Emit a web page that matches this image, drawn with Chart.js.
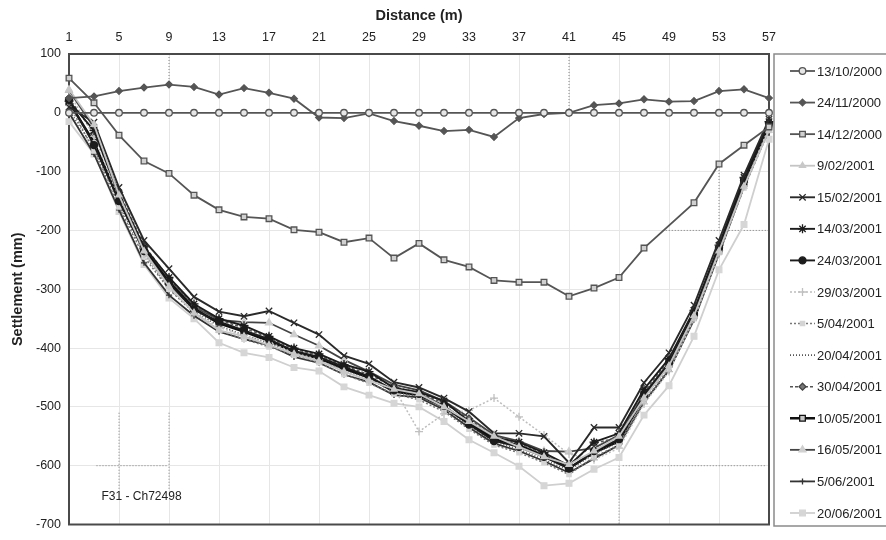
<!DOCTYPE html>
<html>
<head>
<meta charset="utf-8">
<script src="https://cdn.jsdelivr.net/npm/chart.js@4.4.0/dist/chart.umd.min.js"></script>
<style>
  html, body { margin: 0; padding: 0; background: #fff; }
  #wrap { width: 886px; height: 540px; }
</style>
</head>
<body>
<div id="wrap"><canvas id="grafico" width="886" height="540"></canvas></div>
<script>
// Distancias (m) de cada punto de lectura
const distancias = [1, 3, 5, 7, 9, 11, 13, 15, 17, 19, 21, 23, 25, 27, 29, 31, 33, 35, 37, 39, 41, 43, 45, 47, 49, 51, 53, 55, 57];

// Asientos (mm) por fecha de lectura
const s_13_10_2000 = [0, 0, 0, 0, 0, 0, 0, 0, 0, 0, 0, 0, 0, 0, 0, 0, 0, 0, 0, 0, 0, 0, 0, 0, 0, 0, 0, 0, 0];
const s_24_11_2000 = [25, 28, 37, 43, 48, 44, 31, 42, 34, 24, -8, -9, -1, -14, -22, -31, -29, -41, -9, -2, 0, 13, 16, 23, 19, 20, 37, 40, 25];
const s_14_12_2000 = [59, 17, -38, -82, -103, -140, -165, -177, -180, -199, -203, -220, -213, -247, -222, -250, -262, -285, -288, -288, -312, -298, -280, -230, null, -153, -87, -55, -24];
const s_09_02_2001 = [40, -20, -140, -235, -295, -340, -370, -380, -395, -410, -422, -440, -455, -470, -478, -500, -525, -550, -568, -585, -598, -575, -550, -485, -430, -345, -235, -125, -30];
const s_15_02_2001 = [10, -16, -127, -217, -265, -313, -338, -346, -337, -357, -377, -413, -427, -458, -467, -485, -508, -545, -545, -550, -595, -535, -535, -459, -408, -327, -217, -106, -11];
const s_14_03_2001 = [20, -30, -140, -228, -280, -325, -350, -362, -380, -400, -410, -428, -440, -468, -475, -490, -525, -552, -560, -578, -600, -560, -545, -470, -418, -336, -225, -110, -15];
const s_24_03_2001 = [22, -55, -150, -235, -290, -335, -355, -370, -385, -405, -415, -432, -448, -472, -478, -498, -530, -558, -568, -585, -605, -575, -555, -480, -425, -342, -230, -115, -18];
const s_29_03_2001 = [35, -40, -145, -240, -295, -340, -365, -378, -390, -408, -420, -440, -455, -468, -542, -512, -506, -485, -517, -548, -580, -590, -570, -495, -440, -350, -240, -125, -25];
const s_05_04_2001 = [15, -65, -160, -245, -300, -340, -370, -385, -398, -412, -425, -445, -460, -478, -488, -508, -538, -565, -578, -595, -615, -585, -565, -490, -435, -350, -238, -128, -30];
const s_20_04_2001 = [5, -60, -155, -240, -298, -338, -362, -378, -392, -410, -420, -438, -452, -475, -482, -502, -533, -560, -572, -590, -608, -580, -560, -485, -430, -345, -235, -120, -22];
const s_30_04_2001 = [25, -35, -135, -225, -282, -328, -352, -366, -382, -402, -412, -430, -445, -466, -476, -494, -520, -550, -562, -580, -600, -562, -552, -475, -420, -338, -228, -112, -16];
const s_10_05_2001 = [18, -50, -148, -232, -288, -333, -358, -372, -388, -406, -418, -435, -450, -474, -480, -500, -528, -555, -565, -583, -604, -578, -558, -482, -428, -344, -232, -118, -20];
const s_16_05_2001 = [38, -25, -138, -230, -285, -330, -352, -356, -357, -377, -396, -420, -440, -462, -472, -490, -518, -548, -558, -575, -576, -570, -548, -478, -425, -340, -230, -115, -20];
const s_05_06_2001 = [0, -70, -165, -255, -310, -345, -372, -385, -395, -415, -425, -445, -458, -480, -484, -505, -535, -562, -575, -592, -612, -588, -565, -492, -438, -352, -240, -125, -28];
const s_20_06_2001 = [-15, -70, -168, -258, -315, -350, -391, -408, -416, -433, -439, -466, -480, -494, -500, -525, -556, -578, -601, -634, -630, -606, -586, -514, -464, -380, -267, -190, -45];

const fechas = ['13/10/2000', '24/11/2000', '14/12/2000', '9/02/2001', '15/02/2001', '14/03/2001', '24/03/2001',
  '29/03/2001', '5/04/2001', '20/04/2001', '30/04/2001', '10/05/2001', '16/05/2001', '5/06/2001', '20/06/2001'];
const series = [s_13_10_2000, s_24_11_2000, s_14_12_2000, s_09_02_2001, s_15_02_2001, s_14_03_2001, s_24_03_2001,
  s_29_03_2001, s_05_04_2001, s_20_04_2001, s_30_04_2001, s_10_05_2001, s_16_05_2001, s_05_06_2001, s_20_06_2001];

// Estilo de cada serie (linea + marcador)
const estilos = [
  { color: '#555', dash: [], ancho: 1.8, marca: 'circle', radio: 3.3, relleno: '#e6e6e6', borde: '#555' },
  { color: '#555', dash: [], ancho: 1.8, marca: 'rectRot', radio: 3.3, relleno: '#555', borde: '#555' },
  { color: '#555', dash: [], ancho: 1.8, marca: 'rect', radio: 4, relleno: '#d0d0d0', borde: '#555' },
  { color: '#c4c4c4', dash: [], ancho: 1.8, marca: 'triangle', radio: 3.5, relleno: '#c8c8c8', borde: '#c8c8c8' },
  { color: '#2a2a2a', dash: [], ancho: 1.9, marca: 'crossRot', radio: 4.5, relleno: '#2a2a2a', borde: '#2a2a2a' },
  { color: '#1c1c1c', dash: [], ancho: 1.9, marca: 'star', radio: 4.5, relleno: '#1c1c1c', borde: '#1c1c1c' },
  { color: '#1c1c1c', dash: [], ancho: 1.9, marca: 'circle', radio: 3.5, relleno: '#1c1c1c', borde: '#1c1c1c' },
  { color: '#bdbdbd', dash: [2, 2], ancho: 1.5, marca: 'cross', radio: 4, relleno: '#c0c0c0', borde: '#c0c0c0' },
  { color: '#777', dash: [2, 2], ancho: 1.5, marca: 'rect', radio: 3, relleno: '#d4d4d4', borde: '#d4d4d4' },
  { color: '#555', dash: [1, 2], ancho: 1.7, marca: 'circle', radio: 0, relleno: '#555', borde: '#555' },
  { color: '#555', dash: [3, 2], ancho: 1.5, marca: 'rectRot', radio: 3.5, relleno: '#777', borde: '#444' },
  { color: '#111', dash: [], ancho: 2.5, marca: 'rect', radio: 4, relleno: '#c8c8c8', borde: '#111' },
  { color: '#444', dash: [], ancho: 1.8, marca: 'triangle', radio: 4, relleno: '#cfcfcf', borde: '#cfcfcf' },
  { color: '#333', dash: [], ancho: 1.8, marca: 'cross', radio: 3, relleno: '#333', borde: '#333' },
  { color: '#cfcfcf', dash: [], ancho: 1.8, marca: 'rect', radio: 4, relleno: '#d6d6d6', borde: '#d6d6d6' }
];

// Trazos punteados sueltos del original (en unidades de datos: distancia, asiento)
const trazos = [
  [9, 100, 9, 48], [41, 100, 41, 0], [53, -87, 53, -200],
  [48.5, -200, 57, -200], [45.3, -600, 56.7, -600], [45, -600, 45, -700],
  [5, -510, 5, -640], [9, -510, 9, -640], [3.2, -600, 8.9, -600]
];

const datasets = series.map((datos, i) => {
  const e = estilos[i];
  return {
    label: fechas[i],
    data: datos,
    borderColor: e.color,
    borderWidth: e.ancho,
    borderDash: e.dash,
    pointStyle: e.marca,
    pointRadius: e.radio,
    pointBackgroundColor: e.relleno,
    pointBorderColor: e.borde,
    pointBorderWidth: 1.3,
    tension: 0,
    spanGaps: true
  };
});

const xIndex = (d) => (d - distancias[0]) / (distancias[1] - distancias[0]);

// Marco del area del grafico + anotaciones
const marco = {
  id: 'marco',
  beforeDatasetsDraw(chart) {
    const { ctx, chartArea: a, scales } = chart;
    ctx.save();
    ctx.strokeStyle = '#666';
    ctx.lineWidth = 0.8;
    ctx.setLineDash([1, 2]);
    trazos.forEach(t => {
      ctx.beginPath();
      ctx.moveTo(scales.x.getPixelForValue(xIndex(t[0])), scales.y.getPixelForValue(t[1]));
      ctx.lineTo(scales.x.getPixelForValue(xIndex(t[2])), scales.y.getPixelForValue(t[3]));
      ctx.stroke();
    });
    ctx.setLineDash([]);
    ctx.strokeStyle = '#4a4a4a';
    ctx.lineWidth = 2;
    ctx.strokeRect(a.left, a.top, a.right - a.left, a.bottom - a.top);
    ctx.fillStyle = '#222';
    ctx.font = '12px "Liberation Sans", Arial, sans-serif';
    ctx.textBaseline = 'middle';
    ctx.fillText('F31 - Ch72498', scales.x.getPixelForValue(xIndex(3.6)), scales.y.getPixelForValue(-652));
    ctx.restore();
  }
};

// Leyenda dibujada a mano: linea + marcador + fecha
const leyenda = {
  id: 'leyenda',
  afterDraw(chart) {
    const { ctx, chartArea: a } = chart;
    const x0 = a.right + 5;
    ctx.save();
    ctx.strokeStyle = '#8a8a8a';
    ctx.lineWidth = 1.5;
    ctx.strokeRect(x0, a.top, 150, 472);
    const paso = 31.57;
    chart.data.datasets.forEach((ds, i) => {
      const y = a.top + 17 + i * paso;
      ctx.strokeStyle = ds.borderColor;
      ctx.lineWidth = ds.borderWidth;
      ctx.setLineDash(ds.borderDash);
      ctx.beginPath();
      ctx.moveTo(x0 + 16, y);
      ctx.lineTo(x0 + 41, y);
      ctx.stroke();
      ctx.setLineDash([]);
      if (ds.pointRadius > 0) {
        ctx.fillStyle = ds.pointBackgroundColor;
        ctx.strokeStyle = ds.pointBorderColor;
        ctx.lineWidth = ds.pointBorderWidth;
        Chart.helpers.drawPoint(ctx, { pointStyle: ds.pointStyle, radius: ds.pointRadius, rotation: 0, borderWidth: ds.pointBorderWidth }, x0 + 28.5, y);
      }
      ctx.fillStyle = '#222';
      ctx.font = '13px "Liberation Sans", Arial, sans-serif';
      ctx.textBaseline = 'middle';
      ctx.fillText(ds.label, x0 + 43, y + 1);
    });
    ctx.restore();
  }
};

new Chart(document.getElementById('grafico'), {
  type: 'line',
  data: { labels: distancias.map(String), datasets: datasets },
  options: {
    responsive: false,
    animation: false,
    layout: { padding: { top: 0, right: 117, bottom: 9, left: 0 } },
    plugins: { legend: { display: false }, tooltip: { enabled: false } },
    scales: {
      x: {
        type: 'category',
        position: 'top',
        offset: false,
        afterFit(scale) { scale.height = 54; },
        grid: { offset: false, color: '#e6e6e6', drawTicks: false },
        border: { display: false },
        ticks: {
          autoSkip: false,
          maxRotation: 0,
          padding: 9,
          color: '#222',
          font: { family: '"Liberation Sans", Arial, sans-serif', size: 12.5 },
          callback(val, idx) { return idx % 2 === 0 ? this.getLabelForValue(val) : null; }
        },
        title: {
          display: true,
          text: 'Distance (m)',
          color: '#222',
          padding: { top: 7, bottom: 0 },
          font: { family: '"Liberation Sans", Arial, sans-serif', size: 14.5, weight: 'bold' }
        }
      },
      y: {
        min: -700,
        max: 100,
        afterFit(scale) { scale.width = 69; },
        grid: { color: '#e6e6e6', drawTicks: false },
        border: { display: false },
        ticks: {
          stepSize: 100,
          padding: 8,
          color: '#222',
          font: { family: '"Liberation Sans", Arial, sans-serif', size: 12.5 }
        },
        title: {
          display: true,
          text: 'Settlement (mm)',
          color: '#222',
          padding: { top: 9, bottom: 0 },
          font: { family: '"Liberation Sans", Arial, sans-serif', size: 14.5, weight: 'bold' }
        }
      }
    }
  },
  plugins: [marco, leyenda]
});
</script>
</body>
</html>
